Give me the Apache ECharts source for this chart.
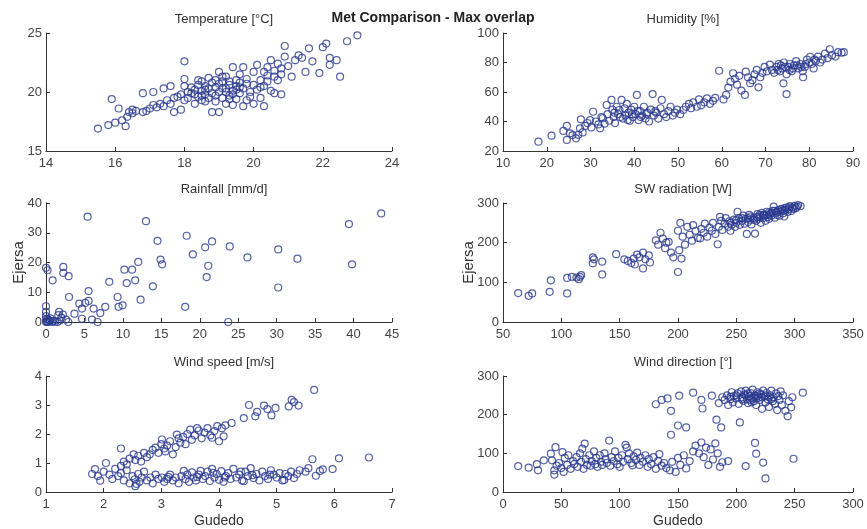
<!DOCTYPE html>
<html>
<head>
<meta charset="utf-8">
<script src="https://cdn.jsdelivr.net/npm/echarts@6/dist/echarts.min.js"></script>
<style>html,body{margin:0;padding:0;background:#fff}#c{width:867px;height:529px}</style>
</head>
<body>
<div id="c"></div>
<script>
const mainTitle = 'Met Comparison - Max overlap';
const panelTitles = ['Temperature [°C]', 'Humidity [%]', 'Rainfall [mm/d]', 'SW radiation [W]', 'Wind speed [m/s]', 'Wind direction [°]'];
const yName = 'Ejersa';
const xName = 'Gudedo';

const temperature = [[15.5,16.9],[15.8,17.2],[15.9,19.4],[16.0,17.4],[16.1,18.6],[16.2,17.6],[16.3,17.1],[16.35,17.9],[16.4,18.3],[16.5,18.2],[16.5,18.5],[16.6,18.4],[16.8,19.9],[16.8,18.3],[16.9,18.4],[17.0,18.6],[17.1,20.0],[17.1,18.9],[17.2,18.7],[17.3,19.0],[17.4,20.3],[17.4,18.8],[17.5,19.3],[17.6,20.5],[17.6,19.0],[17.7,19.5],[17.7,18.3],[17.8,19.6],[17.9,18.5],[17.9,19.8],[18.0,22.6],[18.0,21.1],[18.0,20.5],[18.0,19.3],[18.1,20.0],[18.1,19.5],[18.2,19.9],[18.2,20.4],[18.3,19.0],[18.3,20.2],[18.4,21.0],[18.4,20.6],[18.4,19.6],[18.5,20.9],[18.5,20.1],[18.5,19.3],[18.6,20.5],[18.6,19.8],[18.7,21.2],[18.7,20.3],[18.7,19.5],[18.8,20.8],[18.8,18.3],[18.8,19.9],[18.9,20.4],[18.9,19.2],[19.0,21.7],[19.0,20.7],[19.0,20.0],[19.0,18.3],[19.1,19.5],[19.1,20.9],[19.2,20.3],[19.2,19.0],[19.2,21.3],[19.3,20.6],[19.3,19.7],[19.4,22.1],[19.4,20.1],[19.4,18.9],[19.5,21.0],[19.5,19.4],[19.5,20.5],[19.6,21.5],[19.6,19.9],[19.6,20.8],[19.7,22.1],[19.7,18.8],[19.7,20.3],[19.8,19.3],[19.8,21.1],[19.9,20.0],[19.9,19.6],[20.0,19.0],[20.0,20.6],[20.0,21.7],[20.1,22.3],[20.1,20.2],[20.2,19.5],[20.2,21.0],[20.3,18.8],[20.3,20.5],[20.4,22.1],[20.4,21.4],[20.5,22.7],[20.5,20.1],[20.6,21.8],[20.6,19.9],[20.7,21.0],[20.7,22.4],[20.8,19.8],[20.8,21.5],[20.9,23.9],[20.9,23.0],[21.0,22.2],[21.1,21.3],[21.2,22.7],[21.3,23.1],[21.4,22.9],[21.5,21.7],[21.6,23.7],[21.7,22.6],[21.9,21.6],[22.0,23.8],[22.1,24.1],[22.2,22.3],[22.2,22.9],[22.4,22.7],[22.5,21.3],[22.7,24.3],[23.0,24.8],[18.3,19.8],[18.5,19.7],[18.6,20.2],[18.9,19.7],[19.1,20.3],[19.2,20.0],[19.3,20.9],[19.4,19.8],[19.5,20.2],[19.6,20.4],[19.3,19.4],[18.9,21.0],[18.6,19.2],[19.1,21.3],[19.8,20.7],[20.2,20.4],[20.4,20.9],[20.6,21.3],[20.3,21.7],[20.8,22.0]];

const humidity = [[18.1,26.3],[21.1,30.4],[23.8,33.6],[24.6,37],[24.6,27.5],[25.3,32],[25.9,30.8],[26.7,28.6],[27.2,31],[27.6,35.4],[27.8,41.5],[28.2,32.6],[28.8,37],[29.3,39],[29.9,41],[30.2,36],[30.6,46.6],[31.2,40],[31.8,38],[32.2,35.4],[32.5,43],[32.8,42.2],[33.2,38.5],[33.7,51.2],[33.9,45],[34.3,40.5],[34.8,54.6],[35.0,48],[35.3,43],[35.6,39],[36.0,50],[36.3,45],[36.6,47.8],[37.1,54.6],[37.4,42],[37.8,49],[38.0,44],[38.3,52],[38.7,46],[39.0,40.5],[39.3,48],[39.7,43],[40.0,50],[40.3,45],[40.6,58],[41.0,41],[41.3,47],[41.8,44],[42.2,50],[42.6,42],[43.0,46],[43.4,40],[43.8,48],[44.2,58.6],[44.5,44],[45.0,46],[45.5,42],[46.0,49],[46.3,54.6],[46.8,45],[47.3,43],[47.8,47],[48.3,50],[48.8,44],[49.3,46],[49.8,48],[50.5,45],[51.2,47.8],[51.8,50],[52.5,52],[53.0,49],[53.5,53],[54.3,50],[54.8,55],[55.3,51],[56.0,53],[56.6,55.7],[57.3,52],[58.0,54],[58.5,56],[59.4,74.4],[60.4,55],[61.0,58],[61.5,63],[62.0,67],[62.6,72.7],[63.0,69],[63.5,65],[64.0,71],[64.5,61],[65.3,58],[65.5,73.8],[66.0,70],[66.5,66],[67.0,68],[67.5,72],[68.0,75],[68.4,63.2],[68.8,70],[69.3,73],[69.8,77],[70.3,74],[71.0,78.6],[71.5,75],[72.0,73],[72.5,77],[73.0,79],[73.3,74],[73.8,76],[74.1,65.9],[74.2,80],[74.8,58.6],[74.8,72],[75.2,77],[75.6,79],[76.0,74],[76.5,78],[77.0,81],[77.5,76],[78.0,79],[78.5,74],[78.6,70],[79.0,77],[79.5,82],[80.2,83.9],[80.6,79],[81.0,76],[81.5,81],[82.0,84],[82.5,80],[83.0,82],[83.6,86],[84.2,83],[84.7,89],[85.2,85],[86.0,84],[86.6,87],[87.4,86.6],[87.9,87],[35.5,46],[36.8,43],[38.5,41],[39.5,45],[40.8,47],[41.5,43],[42.8,45],[44.8,47],[76.3,76],[77.2,78],[78.2,77],[79.2,79],[80.0,80],[81.2,82],[75.5,75],[74.5,77],[73.5,78],[72.8,75]];

const rainfall = [[0,0],[0.1,0.2],[0.3,0],[0.5,0.3],[0.2,1],[0,2],[0.8,0],[1.0,0.4],[1.2,0.1],[0.6,1.2],[0,1],[1.5,0],[1.8,0.5],[2.0,1.5],[1.6,2.3],[1.7,3.4],[2.2,2.5],[2.6,0.8],[2.9,0],[0.4,0.6],[0.15,0.05],[0,18.2],[0.2,17.4],[0,5.3],[0,3.4],[0.86,14.0],[2.25,18.5],[2.25,16.5],[2.94,15.4],[3.0,8.4],[3.7,2.8],[4.33,6.2],[4.68,4.5],[5.1,6.4],[5.41,35.4],[5.54,10.4],[5.54,7.1],[4.68,1.1],[5.98,0.8],[6.19,4.5],[6.71,0],[7.06,3.0],[7.71,5.1],[8.23,13.5],[9.31,8.4],[9.44,5.1],[9.96,5.6],[10.2,17.6],[10.5,13.1],[11.2,17.6],[11.6,14.0],[12.0,20.2],[12.3,7.5],[13.0,33.9],[13.9,12.0],[14.5,27.3],[14.9,21.0],[15.1,19.4],[18.1,5.1],[18.3,29.0],[19.1,22.7],[20.7,25.1],[20.9,15.1],[21.1,18.9],[21.6,27.1],[23.9,25.4],[23.7,0],[26.2,21.7],[30.2,24.4],[30.2,11.6],[32.7,21.3],[39.4,32.9],[39.8,19.4],[43.6,36.5]];

const swRadiation = [[63,73],[72,66],[75,72],[90,76],[91,105],[105,72],[105,111],[109,114],[113,112],[115,108],[117,118],[116,114],[127,148],[127,163],[128,158],[135,152],[135,120],[147,171],[154,158],[157,154],[160,149],[162,160],[165,170],[163,145],[167,163],[170,135],[170,175],[172,158],[175,168],[176,150],[181,206],[183,195],[185,225],[187,210],[189,186],[190,200],[192,202],[194,175],[196,163],[200,126],[200,230],[201,181],[202,250],[203,160],[204,215],[206,195],[208,240],[210,220],[212,205],[213,244],[215,230],[217,212],[219,211],[220,235],[222,225],[223,248],[225,215],[227,238],[229,230],[230,250],[232,222],[234,196],[235,240],[236,265],[237,255],[238,232],[240,248],[241,262],[243,240],[244,254],[245,230],[246,245],[248,258],[249,240],[250,250],[251,278],[252,262],[253,245],[255,255],[256,268],[257,248],[258,260],[259,222],[260,252],[261,270],[262,258],[263,246],[265,263],[266,223],[267,255],[268,272],[269,260],[270,265],[271,250],[272,275],[273,262],[274,268],[275,255],[276,278],[277,265],[278,260],[279,272],[280,268],[281,280],[282,291],[283,263],[284,275],[285,270],[286,282],[287,268],[288,278],[289,285],[290,274],[291,266],[292,282],[293,288],[294,277],[295,284],[296,292],[297,280],[298,288],[299,285],[300,293],[301,287],[302,291],[303,295],[305,292],[245,250],[250,257],[255,262],[260,262],[262,266],[265,258],[268,265],[270,270],[273,270],[276,270],[278,276],[280,275],[283,280],[285,278],[288,284],[290,281],[292,288],[295,289]];

const windSpeed = [[1.8,0.62],[1.85,0.79],[1.9,0.55],[1.94,0.39],[2.0,0.7],[2.04,1.0],[2.1,0.6],[2.15,0.45],[2.2,0.8],[2.25,0.55],[2.3,1.5],[2.3,0.65],[2.35,0.4],[2.4,0.75],[2.45,0.3],[2.5,0.55],[2.54,0.44],[2.55,0.2],[2.57,0.28],[2.6,0.62],[2.62,0.35],[2.66,0.5],[2.7,0.7],[2.75,0.4],[2.81,0.5],[2.85,0.3],[2.9,0.6],[2.95,0.45],[3.01,0.5],[3.05,0.35],[3.1,0.45],[3.15,0.6],[3.2,0.4],[3.25,0.5],[3.3,0.3],[3.35,0.55],[3.39,0.73],[3.42,0.45],[3.48,0.35],[3.53,0.68],[3.56,0.5],[3.6,0.4],[3.65,0.6],[3.68,0.73],[3.72,0.45],[3.76,0.55],[3.8,0.7],[3.84,0.38],[3.88,0.8],[3.92,0.5],[3.96,0.62],[4.0,0.42],[4.04,0.72],[4.08,0.35],[4.12,0.55],[4.16,0.65],[4.2,0.45],[4.25,0.8],[4.3,0.5],[4.35,0.6],[4.4,0.4],[4.43,0.37],[4.46,0.7],[4.5,0.55],[4.55,0.82],[4.6,0.48],[4.65,0.62],[4.7,0.4],[4.75,0.7],[4.8,0.55],[4.85,0.45],[4.9,0.75],[4.95,0.6],[5.0,0.5],[5.05,0.65],[5.1,0.4],[5.13,0.41],[5.2,0.55],[5.25,0.7],[5.3,0.48],[5.35,0.62],[5.4,0.75],[5.5,0.7],[5.55,0.82],[5.62,1.13],[5.68,0.56],[5.75,0.72],[5.8,0.78],[5.97,0.79],[6.08,1.16],[6.6,1.19],[2.3,0.9],[2.35,1.05],[2.4,0.95],[2.45,1.15],[2.52,1.3],[2.55,1.1],[2.6,1.25],[2.65,1.05],[2.7,1.35],[2.75,1.2],[2.8,1.3],[2.85,1.45],[2.9,1.53],[2.95,1.35],[3.0,1.65],[3.01,1.81],[3.05,1.5],[3.07,1.4],[3.1,1.6],[3.15,1.75],[3.2,1.3],[3.25,1.55],[3.27,1.98],[3.3,1.85],[3.33,1.7],[3.38,1.9],[3.42,1.65],[3.45,2.0],[3.5,2.15],[3.53,1.8],[3.58,1.95],[3.62,2.2],[3.65,2.12],[3.7,1.85],[3.75,2.05],[3.8,2.2],[3.85,1.95],[3.88,1.87],[3.92,2.1],[3.97,2.27],[4.0,1.75],[4.05,2.2],[4.08,1.92],[4.11,2.3],[4.22,2.38],[4.43,2.55],[4.52,3.0],[4.63,2.61],[4.66,2.76],[4.78,2.98],[4.84,2.86],[4.91,2.64],[4.98,2.9],[5.21,2.95],[5.26,3.18],[5.3,3.1],[5.38,2.98],[5.65,3.52],[3.12,0.52],[3.45,0.6],[3.62,0.52],[3.9,0.66],[4.1,0.5],[4.38,0.7],[4.58,0.58],[4.88,0.6],[5.15,0.62]];

const windDirection = [[13,67],[22,63],[29,72],[30,56],[35,82],[41,99],[42,82],[44,56],[44,45],[45,116],[46,68],[48,75],[50,62],[51,103],[52,52],[53,88],[55,70],[56,95],[58,60],[60,80],[61,72],[63,90],[64,65],[66,100],[67,78],[68,112],[69,60],[70,125],[71,85],[72,70],[74,95],[75,68],[76,80],[78,105],[79,72],[80,88],[81,65],[83,95],[84,78],[85,70],[87,100],[88,85],[89,75],[91,133],[92,68],[93,90],[95,80],[96,105],[98,72],[99,88],[100,65],[102,95],[103,78],[105,122],[106,115],[107,85],[108,100],[110,75],[111,69],[112,92],[114,83],[115,102],[117,70],[118,88],[120,78],[122,95],[124,65],[125,85],[127,72],[129,90],[131,60],[133,80],[134,98],[136,68],[138,75],[140,62],[143,56],[145,78],[148,52],[150,88],[152,70],[155,95],[157,61],[160,80],[163,105],[165,120],[168,100],[170,128],[172,90],[174,115],[176,70],[178,110],[180,84],[182,126],[184,100],[186,65],[188,77],[193,80],[208,67],[216,127],[217,99],[223,76],[225,35],[249,86],[131,227],[136,238],[141,242],[144,210],[144,148],[150,172],[151,249],[157,167],[163,257],[171,216],[170,238],[179,249],[183,187],[185,230],[187,167],[188,245],[190,238],[192,250],[193,225],[195,240],[196,258],[197,232],[198,248],[200,242],[201,255],[202,228],[203,180],[204,260],[205,245],[206,236],[207,252],[208,262],[209,240],[210,230],[211,248],[212,256],[213,243],[214,265],[215,235],[216,250],[217,225],[218,258],[219,244],[220,238],[221,252],[222,215],[223,262],[224,247],[225,232],[226,256],[227,240],[228,220],[229,250],[230,262],[231,235],[232,245],[233,228],[234,255],[235,212],[236,248],[237,238],[238,260],[239,225],[240,250],[242,210],[244,196],[245,235],[247,219],[248,245],[257,257],[205,240],[208,250],[210,255],[212,238],[215,245],[218,248],[220,255],[222,245],[225,250],[228,245],[230,240],[213,232],[217,242],[200,250],[195,246]];

const xRanges = [[14,24,2],[10,90,10],[0,45,5],[50,350,50],[1,7,1],[0,300,50]];
const yRanges = [[15,25,5],[20,100,20],[0,40,10],[0,300,100],[0,4,1],[0,300,100]];
const panelData = [temperature, humidity, rainfall, swRadiation, windSpeed, windDirection];

const FONT = '"Liberation Sans", Arial, sans-serif';
const lefts = [46, 503];
const widths = [346, 350];
const tops = [33, 203, 376];
const heights = [118, 119, 117];
const yNameGaps = [20, 27];

const grids = [], xAxes = [], yAxes = [], series = [], titles = [];
titles.push({text: mainTitle, left: 428, top: 6, textAlign: 'center',
  textStyle: {fontFamily: FONT, fontSize: 14, fontWeight: 'bold', color: '#222'}});
for (let i = 0; i < 6; i++) {
  const col = i % 2, row = Math.floor(i / 2);
  grids.push({left: lefts[col], top: tops[row], width: widths[col], height: heights[row]});
  titles.push({text: panelTitles[i], left: lefts[col] + widths[col] / 2, top: tops[row] - 25, textAlign: 'center',
    textStyle: {fontFamily: FONT, fontSize: 13, fontWeight: 'normal', color: '#333'}});
  const axisCommon = {
    axisLine: {show: true, onZero: false, lineStyle: {color: '#333', width: 1}},
    axisTick: {show: true, inside: true, length: 4, lineStyle: {color: '#333'}},
    axisLabel: {fontFamily: FONT, fontSize: 13, color: '#444', showMinLabel: true, showMaxLabel: true},
    splitLine: {show: false}
  };
  xAxes.push(Object.assign({}, axisCommon, {
    type: 'value', gridIndex: i, min: xRanges[i][0], max: xRanges[i][1], interval: xRanges[i][2],
    axisLabel: Object.assign({}, axisCommon.axisLabel, {margin: 6}),
    name: row === 2 ? xName : '', nameLocation: 'middle', nameGap: 22, nameMoveOverlap: false,
    nameTextStyle: {fontFamily: FONT, fontSize: 14, color: '#333'}
  }));
  yAxes.push(Object.assign({}, axisCommon, {
    type: 'value', gridIndex: i, min: yRanges[i][0], max: yRanges[i][1], interval: yRanges[i][2],
    axisLabel: Object.assign({}, axisCommon.axisLabel, {margin: 4}),
    name: row === 1 ? yName : '', nameLocation: 'middle', nameGap: yNameGaps[col], nameMoveOverlap: false,
    nameTextStyle: {fontFamily: FONT, fontSize: 15, color: '#333'}
  }));
  series.push({
    type: 'scatter', xAxisIndex: i, yAxisIndex: i, data: panelData[i],
    symbol: 'circle', symbolSize: 7, silent: true,
    itemStyle: {color: 'rgba(0,0,0,0)', borderColor: '#2b3a8f', borderWidth: 1.2}
  });
}

const chart = echarts.init(document.getElementById('c'), null, {renderer: 'canvas'});
chart.setOption({
  animation: false,
  backgroundColor: '#fff',
  title: titles,
  grid: grids,
  xAxis: xAxes,
  yAxis: yAxes,
  series: series
});
</script>
</body>
</html>
